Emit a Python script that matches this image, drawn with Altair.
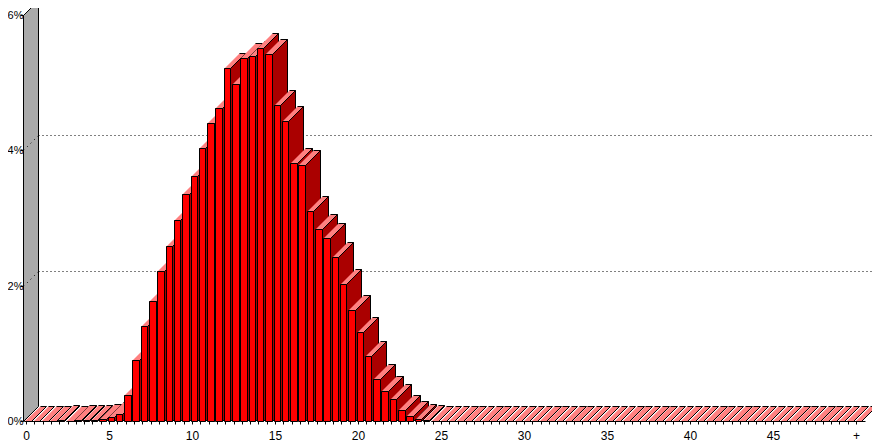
import altair as alt
import pandas as pd

# distribution in percent, one value per half-unit bin (0, 0.5, ... 50)
bins = [i / 2 for i in range(101)]
values = [0, 0, 0, 0, 0.01, 0, 0.01, 0.01, 0.02, 0.03, 0.06, 0.11, 0.39, 0.90,
          1.40, 1.77, 2.22, 2.58, 2.97, 3.35, 3.62, 4.04, 4.41, 4.62, 5.21, 4.98,
          5.37, 5.39, 5.51, 5.42, 4.67, 4.43, 3.81, 3.78, 3.11, 2.83, 2.71, 2.42,
          2.02, 1.64, 1.31, 0.96, 0.62, 0.45, 0.32, 0.16, 0.08, 0.03, 0.01] + [0] * 52
grid_levels = [2, 4, 6]
y_ticks = [0, 2, 4, 6]
RED, DARK, PINK, GREY = "#ff0000", "#aa0000", "#ff8080", "#aaaaaa"

PX_X = 16.6    # pixels per x unit
PX_Y = 67.67   # pixels per percent
DX = 15 / PX_X   # 3D depth in data units
DY = 15 / PX_Y
LEFT = -1.5 / PX_X
WIDTH = 6.5 / PX_X
XMIN = -3 / PX_X
XMAX = XMIN + 848 / PX_X
YMAX = 413 / PX_Y

rows = []
def face(name, fill, pts):
    for k, (x, y) in enumerate(pts):
        rows.append(dict(face=name, fill=fill, v=k, x=x, y=y))

for i, (b, val) in enumerate(zip(bins, values)):
    l, r = b + LEFT, b + LEFT + WIDTH
    # the top and side faces leave their left edge unstroked
    face(f"{i:03d}t", PINK, [(l, val), (r, val), (r + DX, val + DY), (l + DX, val + DY)])
    if val > 0:
        face(f"{i:03d}s", DARK, [(r, val), (r + DX, val + DY), (r + DX, DY), (r, 0)])
        face(f"{i:03d}f", RED, [(l, 0), (l, val), (r, val), (r, 0), (l, 0)])
    else:
        face(f"{i:03d}f", PINK, [(l, 0), (r - 2.4 * LEFT, 0)])
bars = pd.DataFrame(rows)

wall = pd.DataFrame(dict(
    x=[XMIN, XMIN + DX, XMIN + DX, XMIN, XMIN],
    y=[0, DY, 6 + DY, 6, 0],
    v=range(5)))

grid = pd.DataFrame(dict(x=[XMIN + DX] * 3, x2=[XMAX] * 3, y=[g + DY for g in grid_levels]))

grid_side = pd.DataFrame(
    [dict(level=g, v=0, x=XMIN, y=g) for g in grid_levels] +
    [dict(level=g, v=1, x=XMIN + DX, y=g + DY) for g in grid_levels])

xs = alt.Scale(domain=[XMIN, XMAX], nice=False, zero=False, round=True)
ys = alt.Scale(domain=[0, YMAX], nice=False, zero=False, round=True)

font = "Liberation Sans"
xaxis = alt.Axis(
    values=bins, title=None, domain=False, grid=False, tickSize=3, tickColor="#000000",
    tickWidth=1, translate=0, labelFont=font, labelFontSize=12, labelColor="#000000",
    labelPadding=6, labelOverlap=False, labelFlush=False,
    labelExpr="datum.value == 50 ? '+' : (datum.value % 5 == 0 ? datum.value : '')")
yaxis = alt.Axis(
    values=y_ticks, title=None, domain=False, grid=False, tickSize=3, tickColor="#000000",
    tickWidth=1, translate=0, labelFont=font, labelFontSize=11, labelColor="#000000",
    labelPadding=-3, labelOverlap=False, labelFlush=False, labelExpr="datum.value + '%'")
xenc = alt.X("x:Q", scale=xs, axis=xaxis)
yenc = alt.Y("y:Q", scale=ys, axis=yaxis)

grid_layer = alt.Chart(grid).mark_rule(color="#000000", strokeWidth=1, strokeDash=[1, 3]).encode(
    x=xenc, x2="x2:Q", y=yenc)

wall_layer = alt.Chart(wall).mark_line(
    filled=True, fill=GREY, stroke="#000000", strokeWidth=1
).encode(x=xenc, y=yenc, order="v:Q")

side_layer = alt.Chart(grid_side).mark_line(
    stroke="#000000", strokeWidth=1, strokeDash=[1, 4]
).encode(x=xenc, y=yenc, detail="level:N", order="v:Q")

bar_layer = alt.Chart(bars).mark_line(
    filled=True, stroke="#000000", strokeWidth=1, strokeJoin="miter"
).encode(
    x=xenc, y=yenc,
    fill=alt.Fill("fill:N", scale=None),
    detail="face:N",
    order="v:Q",
)

chart = alt.layer(grid_layer, wall_layer, side_layer, bar_layer).properties(
    width=848, height=413,
    padding=dict(left=15.5, top=0.5, right=0, bottom=21),
    autosize=alt.AutoSizeParams(type="none"),
    background="#ffffff",
).configure_view(stroke=None)

chart.save("out.html", embed_options={"renderer": "svg", "actions": False})
